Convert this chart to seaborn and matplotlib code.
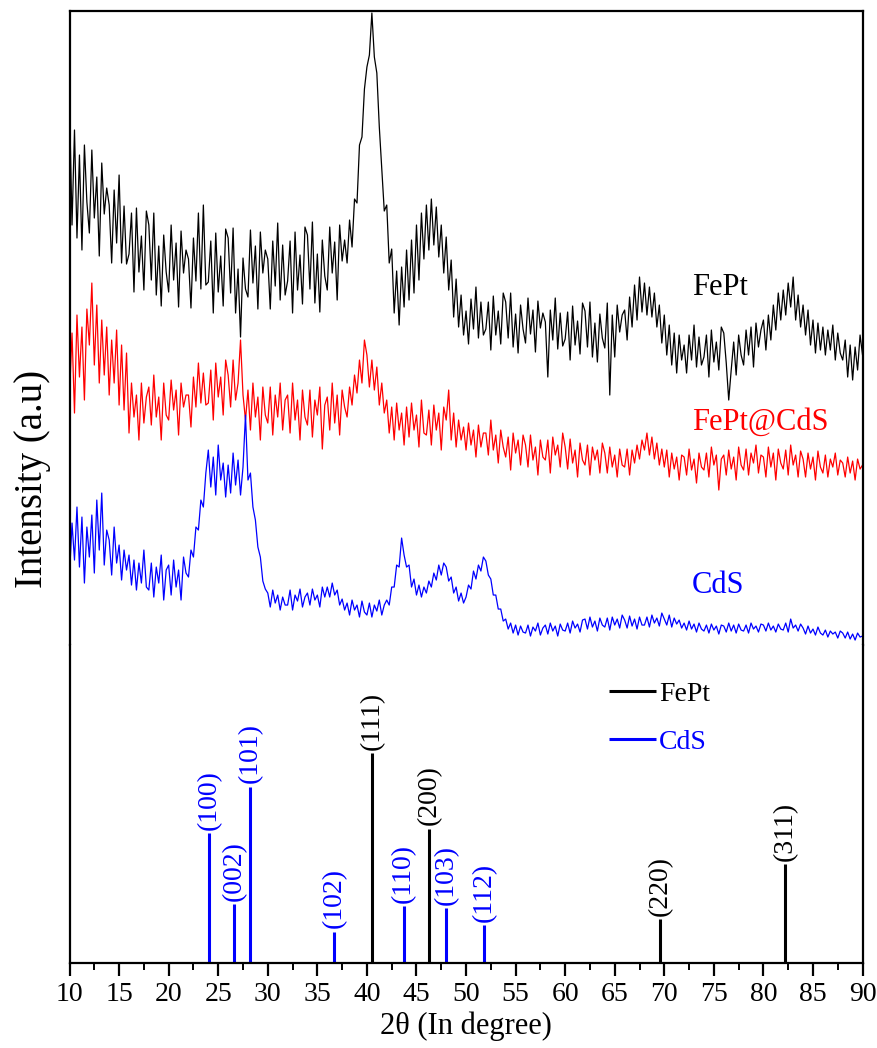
import numpy as np
import pandas as pd
import matplotlib
matplotlib.use("Agg")
import matplotlib.pyplot as plt
import matplotlib.ticker as ticker
import seaborn as sns

# scan grid, 0.25 deg step
two_theta = np.linspace(10, 90, 321)

# intensities (arbitrary units, already offset)
fept = [
    540, 420, 515, 407, 490, 395, 500, 443,
    412, 495, 427, 468, 389, 482, 431, 457,
    440, 382, 455, 402, 470, 382, 439, 381,
    391, 432, 353, 437, 373, 409, 355, 434,
    420, 365, 432, 350, 399, 339, 410, 373,
    353, 420, 365, 402, 338, 414, 372, 395,
    386, 337, 407, 364, 432, 356, 440, 360,
    363, 404, 332, 412, 353, 389, 339, 416,
    407, 352, 417, 332, 376, 308, 387, 356,
    348, 415, 362, 399, 336, 413, 372, 395,
    386, 336, 404, 359, 422, 345, 400, 350,
    364, 404, 332, 413, 355, 390, 341, 418,
    410, 356, 423, 342, 391, 333, 405, 369,
    355, 418, 372, 403, 345, 420, 384, 405,
    382, 425, 398, 446, 442, 500, 508, 556,
    578, 590, 632, 588, 572, 518, 476, 434,
    440, 382, 396, 332, 374, 320, 378, 338,
    395, 345, 405, 352, 420, 365, 432, 386,
    440, 395, 446, 400, 438, 388, 420, 372,
    408, 355, 385, 328, 366, 318, 350, 310,
    334, 301, 346, 316, 358, 307, 343, 310,
    316, 343, 295, 349, 310, 334, 301, 352,
    343, 307, 352, 298, 331, 292, 340, 316,
    302, 347, 311, 335, 293, 344, 317, 332,
    323, 268, 335, 305, 347, 296, 332, 299,
    306, 333, 285, 339, 300, 324, 291, 342,
    334, 298, 343, 288, 322, 283, 331, 307,
    297, 342, 250, 330, 288, 340, 313, 330,
    335, 305, 348, 318, 360, 325, 368, 333,
    362, 330, 358, 328, 352, 318, 340, 302,
    330, 290, 320, 280, 312, 272, 310, 285,
    300, 272, 310, 285, 320, 278, 308, 280,
    288, 310, 268, 315, 283, 303, 275, 318,
    312, 282, 245, 275, 303, 270, 310, 290,
    280, 315, 290, 318, 278, 322, 298, 315,
    325, 295, 330, 305, 340, 315, 352, 325,
    355, 330, 362, 338, 368, 325, 350, 318,
    340, 310, 335, 300, 325, 292, 322, 295,
    318, 290, 315, 295, 320, 285, 312, 292,
    285, 305, 268, 300, 265, 298, 275, 310,
    290]

fept_cds = [
    250, 312, 232, 330, 268, 318, 245, 336,
    300, 362, 280, 340, 262, 325, 270, 318,
    250, 305, 262, 315, 240, 300, 235, 292,
    212, 262, 228, 250, 205, 262, 222, 248,
    258, 220, 270, 228, 248, 205, 262, 230,
    225, 265, 235, 255, 210, 262, 238, 250,
    250, 218, 268, 238, 282, 242, 272, 240,
    242, 275, 225, 282, 248, 268, 230, 285,
    270, 238, 285, 245, 262, 305, 250, 225,
    255, 215, 262, 228, 248, 205, 258, 230,
    222, 258, 210, 250, 228, 262, 215, 245,
    250, 212, 262, 225, 245, 205, 255, 228,
    220, 255, 208, 245, 230, 258, 196, 240,
    248, 215, 262, 222, 250, 210, 255, 238,
    228, 258, 240, 270, 252, 285, 262, 305,
    290, 258, 285, 255, 278, 240, 262, 232,
    245, 212, 238, 205, 242, 215, 232, 200,
    238, 208, 242, 215, 230, 198, 245, 212,
    210, 235, 200, 240, 215, 232, 195, 238,
    225, 255, 205, 232, 198, 225, 205, 218,
    195, 222, 200, 215, 188, 220, 198, 212,
    212, 190, 225, 195, 210, 182, 215, 198,
    188, 208, 175, 212, 192, 205, 180, 210,
    200, 178, 210, 185, 198, 170, 205, 188,
    185, 205, 172, 208, 190, 200, 178, 212,
    198, 176, 206, 182, 195, 168, 202, 185,
    180, 200, 170, 198, 185, 195, 172, 202,
    192, 172, 198, 178, 190, 168, 196, 180,
    178, 196, 170, 195, 182, 200, 186, 205,
    195, 212, 190, 208, 186, 202, 180, 196,
    178, 195, 168, 192, 176, 188, 165, 190,
    188, 170, 196, 175, 186, 162, 192, 178,
    175, 192, 168, 198, 180, 190, 155, 186,
    190, 170, 195, 176, 188, 165, 198, 180,
    175, 196, 170, 192, 182, 200, 172, 190,
    188, 168, 198, 178, 192, 165, 196, 182,
    176, 195, 170, 200, 180, 190, 168, 194,
    186, 168, 192, 176, 188, 165, 194, 178,
    172, 190, 168, 186, 178, 192, 170, 185,
    182, 168, 188, 172, 184, 165, 186, 176,
    180]

cds = [
    70, 122, 85, 138, 78, 128, 62, 118,
    88, 130, 72, 145, 95, 152, 80, 115,
    105, 70, 118, 82, 100, 65, 95, 75,
    90, 60, 85, 55, 82, 62, 95, 58,
    55, 82, 48, 78, 62, 90, 45, 75,
    80, 50, 85, 58, 75, 45, 88, 72,
    68, 95, 88, 118, 115, 145, 138, 172,
    195, 158, 188, 150, 200, 165, 182, 148,
    180, 152, 192, 160, 185, 150, 178, 230,
    165, 172, 138, 125, 98, 88, 64, 56,
    52, 38, 55, 42, 50, 35, 48, 40,
    40, 55, 35, 50, 44, 56, 38, 48,
    52, 40, 56, 45, 50, 38, 58, 48,
    58, 48, 62, 50, 55, 40, 46, 35,
    42, 30, 45, 35, 40, 28, 44, 33,
    30, 42, 28, 40, 34, 45, 30, 40,
    45, 40, 58, 58, 80, 78, 107, 90,
    78, 80, 58, 66, 50, 60, 48, 58,
    52, 64, 58, 72, 65, 80, 70, 82,
    78, 64, 68, 52, 58, 44, 52, 42,
    48, 60, 56, 74, 66, 80, 74, 88,
    84, 70, 66, 50, 50, 36, 36, 24,
    26, 16, 22, 12, 20, 10, 19, 13,
    12, 20, 9, 18, 14, 22, 10, 17,
    20, 11, 22, 14, 19, 9, 21, 15,
    14, 22, 12, 24, 17, 21, 13, 25,
    26, 16, 28, 18, 24, 14, 27, 20,
    18, 27, 15, 28, 20, 26, 17, 30,
    25, 17, 29, 19, 26, 16, 28, 20,
    20, 28, 18, 30, 22, 27, 19, 32,
    26, 20, 30, 18, 27, 21, 25, 17,
    22, 15, 24, 16, 21, 13, 22, 16,
    14, 20, 12, 21, 15, 19, 11, 20,
    19, 13, 22, 14, 20, 12, 21, 15,
    14, 20, 12, 22, 16, 19, 13, 21,
    20, 14, 22, 15, 19, 13, 21, 16,
    15, 22, 13, 26, 17, 20, 14, 21,
    17, 11, 19, 12, 16, 10, 18, 12,
    10, 15, 8, 14, 11, 13, 7, 14,
    12, 7, 13, 6, 11, 5, 12, 8,
    9]

sample_names = ['FePt', 'FePt@CdS', 'CdS']
sample_colors = ['#000000', '#ff0000', '#0000ff']

# reference patterns
fept_pos = [40.5, 46.3, 69.6, 82.2]
fept_int = [100, 64, 21, 47]
fept_hkl = ['(111)', '(200)', '(220)', '(311)']
cds_pos = [24.1, 26.6, 28.2, 36.7, 43.7, 48.0, 51.8]
cds_int = [62, 28, 84, 15, 27, 26, 18]
cds_hkl = ['(100)', '(002)', '(101)', '(102)', '(110)', '(103)', '(112)']

df = pd.DataFrame({
    'two_theta': np.tile(two_theta, 3),
    'intensity': fept + fept_cds + cds,
    'sample': np.repeat(sample_names, len(two_theta)),
})

sns.set_style('ticks', rc={'text.color': 'black', 'axes.labelcolor': 'black',
                           'xtick.color': 'black', 'axes.edgecolor': 'black'})
plt.rcParams['font.family'] = ['Liberation Serif', 'DejaVu Serif']

fig = plt.figure(figsize=(8.78, 10.48), dpi=100)
ax_top = fig.add_axes([0.0792, 0.3845, 0.9032, 0.6050])
ax_bot = fig.add_axes([0.0792, 0.0811, 0.9032, 0.3034], sharex=ax_top)

# top: measured patterns
sns.lineplot(data=df, x='two_theta', y='intensity', hue='sample',
             palette=dict(zip(sample_names, sample_colors)),
             estimator=None, sort=False, lw=0.9, legend=False, ax=ax_top)
ax_top.set_ylim(0, 634)
ax_top.set_xlim(10, 90)
ax_top.set_xlabel('')
ax_top.set_ylabel('')
ax_top.set_yticks([])
ax_top.tick_params(axis='x', bottom=False, labelbottom=False)
ax_top.spines['bottom'].set_visible(False)
for s in ['left', 'right', 'top']:
    ax_top.spines[s].set_linewidth(1.6)

label_y = [358, 223, 60]
for name, c, y in zip(sample_names, sample_colors, label_y):
    ax_top.text(72.8, y, name, color=c, fontsize=22, ha='left', va='center')

# bottom: standard sticks
ax_bot.vlines(fept_pos, 0, fept_int, color='black', lw=2.2, label='FePt')
ax_bot.vlines(cds_pos, 0, cds_int, color='#0000ff', lw=2.2, label='CdS')
for x, h, t in zip(fept_pos, fept_int, fept_hkl):
    ax_bot.text(x, h + 1.5, t, rotation=90, ha='center', va='bottom',
                fontsize=20, color='black')
for x, h, t in zip(cds_pos, cds_int, cds_hkl):
    ax_bot.text(x, h + 1.5, t, rotation=90, ha='center', va='bottom',
                fontsize=20, color='#0000ff')
ax_bot.set_ylim(0, 151.4)
ax_bot.set_yticks([])
ax_bot.spines['top'].set_visible(False)
for s in ['left', 'right', 'bottom']:
    ax_bot.spines[s].set_linewidth(1.6)

ax_bot.xaxis.set_major_locator(ticker.MultipleLocator(5))
ax_bot.xaxis.set_minor_locator(ticker.MultipleLocator(2.5))
ax_bot.tick_params(axis='x', which='major', direction='out', length=9,
                   width=1.6, labelsize=20, pad=5, colors='black')
ax_bot.tick_params(axis='x', which='minor', direction='out', length=5,
                   width=1.4, colors='black')
ax_bot.set_xlabel('2θ (In degree)', fontsize=22, labelpad=3, color='black')

leg = ax_bot.legend(loc='upper left', bbox_to_anchor=(0.68, 0.885),
                    frameon=False, fontsize=20, handlelength=1.7,
                    handletextpad=0.1, labelspacing=0.8,
                    borderpad=0, borderaxespad=0)
for txt, c in zip(leg.get_texts(), ['black', '#0000ff']):
    txt.set_color(c)

fig.text(0.037, 0.543, 'Intensity (a.u)', rotation=90, ha='center',
         va='center', fontsize=28, color='black')

fig.savefig('out.png', dpi=100)
